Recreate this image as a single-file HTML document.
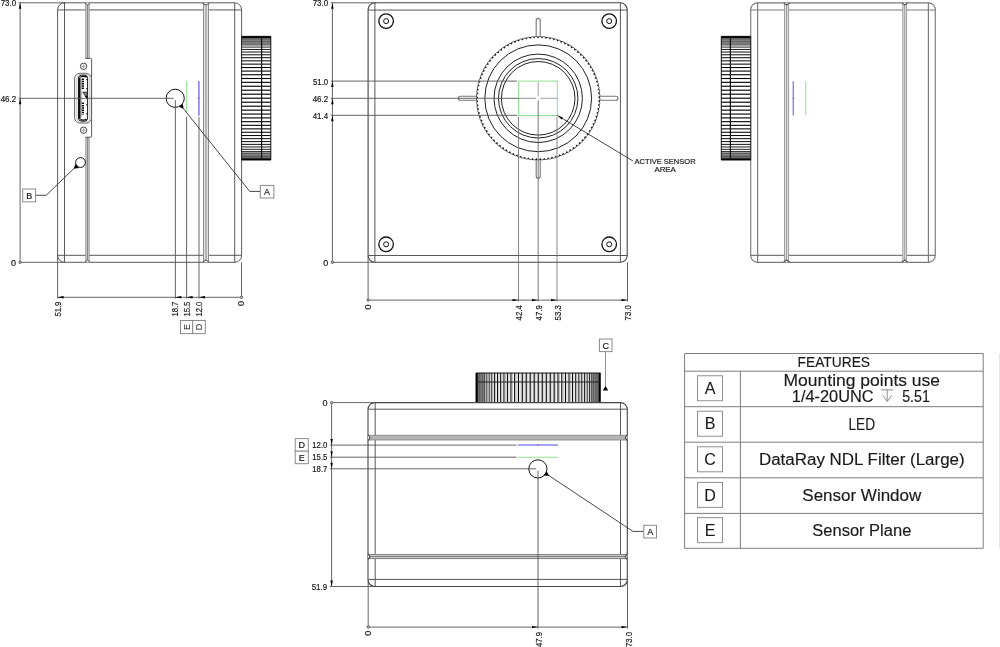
<!DOCTYPE html>
<html><head><meta charset="utf-8"><title>Camera drawing</title>
<style>
html,body{margin:0;padding:0;background:#fff;}
body{width:1000px;height:647px;overflow:hidden;font-family:"Liberation Sans",sans-serif;}
svg{display:block;will-change:transform;}
</style></head><body>
<svg width="1000" height="647" viewBox="0 0 1000 647">
<rect x="0" y="0" width="1000" height="647" fill="#fff"/>
<path d="M64.40,2.80 L234.80,2.80 A6.8,6.8 0 0 1 241.60,9.60 L241.60,255.50 A6.8,6.8 0 0 1 234.80,262.30 L64.40,262.30 A6.8,6.8 0 0 1 57.60,255.50 L57.60,9.60 A6.8,6.8 0 0 1 64.40,2.80 Z" stroke="#464646" stroke-width="0.9" fill="none" />
<line x1="64.50" y1="2.80" x2="64.50" y2="262.30" stroke="#464646" stroke-width="0.9" />
<line x1="234.70" y1="2.80" x2="234.70" y2="262.30" stroke="#464646" stroke-width="0.9" />
<line x1="57.60" y1="9.95" x2="241.60" y2="9.95" stroke="#464646" stroke-width="0.9" />
<line x1="57.60" y1="255.30" x2="241.60" y2="255.30" stroke="#464646" stroke-width="0.9" />
<rect x="85.70" y="3.80" width="3.60" height="54.60" rx="0" stroke="none" stroke-width="0" fill="#e2e2e2"/>
<line x1="85.90" y1="3.80" x2="85.90" y2="58.40" stroke="#808080" stroke-width="0.9" />
<line x1="87.50" y1="3.80" x2="87.50" y2="58.40" stroke="#808080" stroke-width="0.9" />
<line x1="89.10" y1="3.80" x2="89.10" y2="58.40" stroke="#808080" stroke-width="0.9" />
<rect x="85.70" y="137.20" width="3.60" height="124.10" rx="0" stroke="none" stroke-width="0" fill="#e2e2e2"/>
<line x1="85.90" y1="137.20" x2="85.90" y2="261.30" stroke="#808080" stroke-width="0.9" />
<line x1="87.50" y1="137.20" x2="87.50" y2="261.30" stroke="#808080" stroke-width="0.9" />
<line x1="89.10" y1="137.20" x2="89.10" y2="261.30" stroke="#808080" stroke-width="0.9" />
<path d="M84.90,2.80 L87.50,5.10 L90.10,2.80" stroke="#464646" stroke-width="1.0" fill="#fff" />
<path d="M84.90,262.30 L87.50,260.00 L90.10,262.30" stroke="#464646" stroke-width="1.0" fill="#fff" />
<rect x="203.30" y="3.80" width="5.40" height="257.50" rx="0" stroke="none" stroke-width="0" fill="#e2e2e2"/>
<line x1="203.50" y1="3.80" x2="203.50" y2="261.30" stroke="#808080" stroke-width="0.9" />
<line x1="206.00" y1="3.80" x2="206.00" y2="261.30" stroke="#808080" stroke-width="0.9" />
<line x1="208.50" y1="3.80" x2="208.50" y2="261.30" stroke="#808080" stroke-width="0.9" />
<path d="M202.50,2.80 L206.00,5.10 L209.50,2.80" stroke="#464646" stroke-width="1.0" fill="#fff" />
<path d="M202.50,262.30 L206.00,260.00 L209.50,262.30" stroke="#464646" stroke-width="1.0" fill="#fff" />
<path d="M85.4,58.4 L90.8,58.4 Q91.6,58.4 91.6,59.2 L91.6,136.4 Q91.6,137.2 90.8,137.2 L85.4,137.2" stroke="#464646" stroke-width="0.9" fill="none" />
<circle cx="83.60" cy="66.30" r="3.20" stroke="#464646" stroke-width="1.0" fill="none"/>
<line x1="81.60" y1="66.30" x2="85.60" y2="66.30" stroke="#777" stroke-width="0.7" />
<line x1="83.60" y1="64.30" x2="83.60" y2="68.30" stroke="#777" stroke-width="0.7" />
<circle cx="83.60" cy="130.20" r="3.20" stroke="#464646" stroke-width="1.0" fill="none"/>
<line x1="81.60" y1="130.20" x2="85.60" y2="130.20" stroke="#777" stroke-width="0.7" />
<line x1="83.60" y1="128.20" x2="83.60" y2="132.20" stroke="#777" stroke-width="0.7" />
<path d="M80.00,73.30 L86.10,73.30 A5.4,5.4 0 0 1 91.50,78.70 L91.50,117.70 A5.4,5.4 0 0 1 86.10,123.10 L80.00,123.10 A5.4,5.4 0 0 1 74.60,117.70 L74.60,78.70 A5.4,5.4 0 0 1 80.00,73.30 Z" stroke="#555" stroke-width="0.9" fill="#fff" />
<path d="M81.30,74.20 L85.40,74.20 A4.4,4.4 0 0 1 89.80,78.60 L89.80,117.80 A4.4,4.4 0 0 1 85.40,122.20 L81.30,122.20 A4.4,4.4 0 0 1 76.90,117.80 L76.90,78.60 A4.4,4.4 0 0 1 81.30,74.20 Z" stroke="#a0a0a0" stroke-width="0.7" fill="none" />
<path d="M81.60,75.20 L84.60,75.20 A3.0,3.0 0 0 1 87.60,78.20 L87.60,118.20 A3.0,3.0 0 0 1 84.60,121.20 L81.60,121.20 A3.0,3.0 0 0 1 78.60,118.20 L78.60,78.20 A3.0,3.0 0 0 1 81.60,75.20 Z" stroke="#1a1a1a" stroke-width="1.0" fill="none" />
<line x1="79.40" y1="77.60" x2="79.40" y2="118.80" stroke="#111" stroke-width="2.3" />
<line x1="81.20" y1="79.00" x2="81.20" y2="117.50" stroke="#777" stroke-width="0.7" />
<line x1="82.90" y1="78.40" x2="82.90" y2="89.80" stroke="#000" stroke-width="2.1" stroke-dasharray="1.5 0.8"/>
<line x1="82.90" y1="102.60" x2="82.90" y2="114.40" stroke="#000" stroke-width="2.1" stroke-dasharray="1.5 0.8"/>
<line x1="87.00" y1="79.00" x2="87.00" y2="89.50" stroke="#111" stroke-width="1.3" stroke-dasharray="1.2 7.8"/>
<line x1="87.00" y1="104.00" x2="87.00" y2="115.00" stroke="#111" stroke-width="1.3" stroke-dasharray="1.2 7.8"/>
<path d="M82.8,92.2 L87.2,92.2 L87.2,98.8 Z" stroke="#222" stroke-width="0.9" fill="#8a8a8a" />
<path d="M85.2,96 L87.2,96 L87.2,98.8 Z" stroke="#000" stroke-width="0.5" fill="#000" />
<path d="M80.4,119.4 Q83.5,121.0 86.6,119.2" stroke="#111" stroke-width="1.4" fill="none" />
<path d="M80.4,76.9 Q83.5,75.6 86.6,77.0" stroke="#111" stroke-width="1.4" fill="none" />
<rect x="241.60" y="36.30" width="29.20" height="123.80" rx="0" stroke="none" stroke-width="0" fill="#fff"/>
<line x1="241.60" y1="36.37" x2="270.80" y2="36.37" stroke="#222" stroke-width="0.53" />
<line x1="241.60" y1="36.31" x2="270.80" y2="36.31" stroke="#222" stroke-width="0.51" />
<line x1="241.60" y1="36.50" x2="270.80" y2="36.50" stroke="#222" stroke-width="0.55" />
<line x1="241.60" y1="36.96" x2="270.80" y2="36.96" stroke="#222" stroke-width="0.59" />
<line x1="241.60" y1="37.67" x2="270.80" y2="37.67" stroke="#222" stroke-width="0.64" />
<line x1="241.60" y1="38.63" x2="270.80" y2="38.63" stroke="#222" stroke-width="0.68" />
<line x1="241.60" y1="39.84" x2="270.80" y2="39.84" stroke="#222" stroke-width="0.72" />
<line x1="241.60" y1="41.30" x2="270.80" y2="41.30" stroke="#222" stroke-width="0.76" />
<line x1="241.60" y1="43.00" x2="270.80" y2="43.00" stroke="#222" stroke-width="0.79" />
<line x1="241.60" y1="44.93" x2="270.80" y2="44.93" stroke="#000" stroke-width="0.83" />
<line x1="241.60" y1="47.08" x2="270.80" y2="47.08" stroke="#000" stroke-width="0.87" />
<line x1="241.60" y1="49.45" x2="270.80" y2="49.45" stroke="#000" stroke-width="0.9" />
<line x1="241.60" y1="52.02" x2="270.80" y2="52.02" stroke="#000" stroke-width="0.93" />
<line x1="241.60" y1="54.79" x2="270.80" y2="54.79" stroke="#000" stroke-width="0.96" />
<line x1="241.60" y1="57.73" x2="270.80" y2="57.73" stroke="#000" stroke-width="0.99" />
<line x1="241.60" y1="60.85" x2="270.80" y2="60.85" stroke="#000" stroke-width="1.02" />
<line x1="241.60" y1="64.12" x2="270.80" y2="64.12" stroke="#000" stroke-width="1.04" />
<line x1="241.60" y1="67.54" x2="270.80" y2="67.54" stroke="#000" stroke-width="1.06" />
<line x1="241.60" y1="71.08" x2="270.80" y2="71.08" stroke="#000" stroke-width="1.08" />
<line x1="241.60" y1="74.74" x2="270.80" y2="74.74" stroke="#000" stroke-width="1.1" />
<line x1="241.60" y1="78.50" x2="270.80" y2="78.50" stroke="#000" stroke-width="1.12" />
<line x1="241.60" y1="82.34" x2="270.80" y2="82.34" stroke="#000" stroke-width="1.13" />
<line x1="241.60" y1="86.25" x2="270.80" y2="86.25" stroke="#000" stroke-width="1.14" />
<line x1="241.60" y1="90.20" x2="270.80" y2="90.20" stroke="#000" stroke-width="1.14" />
<line x1="241.60" y1="94.19" x2="270.80" y2="94.19" stroke="#000" stroke-width="1.15" />
<line x1="241.60" y1="98.20" x2="270.80" y2="98.20" stroke="#000" stroke-width="1.15" />
<line x1="241.60" y1="102.21" x2="270.80" y2="102.21" stroke="#000" stroke-width="1.15" />
<line x1="241.60" y1="106.20" x2="270.80" y2="106.20" stroke="#000" stroke-width="1.14" />
<line x1="241.60" y1="110.15" x2="270.80" y2="110.15" stroke="#000" stroke-width="1.14" />
<line x1="241.60" y1="114.06" x2="270.80" y2="114.06" stroke="#000" stroke-width="1.13" />
<line x1="241.60" y1="117.90" x2="270.80" y2="117.90" stroke="#000" stroke-width="1.12" />
<line x1="241.60" y1="121.66" x2="270.80" y2="121.66" stroke="#000" stroke-width="1.1" />
<line x1="241.60" y1="125.32" x2="270.80" y2="125.32" stroke="#000" stroke-width="1.08" />
<line x1="241.60" y1="128.86" x2="270.80" y2="128.86" stroke="#000" stroke-width="1.06" />
<line x1="241.60" y1="132.28" x2="270.80" y2="132.28" stroke="#000" stroke-width="1.04" />
<line x1="241.60" y1="135.55" x2="270.80" y2="135.55" stroke="#000" stroke-width="1.02" />
<line x1="241.60" y1="138.67" x2="270.80" y2="138.67" stroke="#000" stroke-width="0.99" />
<line x1="241.60" y1="141.61" x2="270.80" y2="141.61" stroke="#000" stroke-width="0.96" />
<line x1="241.60" y1="144.38" x2="270.80" y2="144.38" stroke="#000" stroke-width="0.93" />
<line x1="241.60" y1="146.95" x2="270.80" y2="146.95" stroke="#000" stroke-width="0.9" />
<line x1="241.60" y1="149.32" x2="270.80" y2="149.32" stroke="#000" stroke-width="0.87" />
<line x1="241.60" y1="151.47" x2="270.80" y2="151.47" stroke="#000" stroke-width="0.83" />
<line x1="241.60" y1="153.40" x2="270.80" y2="153.40" stroke="#222" stroke-width="0.79" />
<line x1="241.60" y1="155.10" x2="270.80" y2="155.10" stroke="#222" stroke-width="0.76" />
<line x1="241.60" y1="156.56" x2="270.80" y2="156.56" stroke="#222" stroke-width="0.72" />
<line x1="241.60" y1="157.77" x2="270.80" y2="157.77" stroke="#222" stroke-width="0.68" />
<line x1="241.60" y1="158.73" x2="270.80" y2="158.73" stroke="#222" stroke-width="0.64" />
<line x1="241.60" y1="159.44" x2="270.80" y2="159.44" stroke="#222" stroke-width="0.59" />
<line x1="241.60" y1="159.90" x2="270.80" y2="159.90" stroke="#222" stroke-width="0.55" />
<line x1="241.60" y1="160.09" x2="270.80" y2="160.09" stroke="#222" stroke-width="0.51" />
<rect x="241.60" y="36.30" width="29.20" height="8.50" fill="#555" opacity="0.55"/>
<rect x="241.60" y="36.30" width="29.20" height="1.7" fill="#000"/>
<rect x="241.60" y="151.60" width="29.20" height="8.50" fill="#555" opacity="0.55"/>
<rect x="241.60" y="158.40" width="29.20" height="1.7" fill="#000"/>
<line x1="261.60" y1="36.30" x2="261.60" y2="160.10" stroke="#111" stroke-width="1.2" />
<line x1="270.80" y1="36.30" x2="270.80" y2="160.10" stroke="#111" stroke-width="1.0" />
<line x1="241.60" y1="36.30" x2="241.60" y2="160.10" stroke="#222" stroke-width="1.0" />
<circle cx="175.20" cy="98.30" r="9.10" stroke="#111" stroke-width="1.0" fill="none"/>
<circle cx="80.50" cy="162.50" r="4.90" stroke="#111" stroke-width="1.0" fill="none"/>
<line x1="186.70" y1="81.10" x2="186.70" y2="111.80" stroke="#90e090" stroke-width="1.0" />
<line x1="198.90" y1="81.10" x2="198.90" y2="115.80" stroke="#8585ea" stroke-width="1.6" />
<line x1="197.60" y1="98.30" x2="200.20" y2="98.30" stroke="#777" stroke-width="0.7" />
<line x1="18.50" y1="2.80" x2="65.60" y2="2.80" stroke="#555" stroke-width="0.9" />
<line x1="20.10" y1="262.30" x2="63.60" y2="262.30" stroke="#555" stroke-width="0.9" />
<line x1="18.50" y1="98.30" x2="173.60" y2="98.30" stroke="#555" stroke-width="0.9" />
<line x1="20.10" y1="2.80" x2="20.10" y2="262.30" stroke="#555" stroke-width="0.9" />
<polygon points="20.10,2.80 21.30,8.80 18.90,8.80" fill="#000"/>
<polygon points="20.10,98.30 21.30,104.30 18.90,104.30" fill="#000"/>
<circle cx="20.10" cy="262.30" r="1.20" stroke="#444" stroke-width="0.8" fill="#ccc"/>
<text x="16.20" y="6.20" font-size="9.0" font-family="Liberation Sans, sans-serif" text-anchor="end" fill="#1a1a1a" stroke="#1a1a1a" stroke-width="0.2" font-weight="normal" textLength="15.5" lengthAdjust="spacingAndGlyphs">73.0</text>
<text x="16.20" y="101.90" font-size="9.0" font-family="Liberation Sans, sans-serif" text-anchor="end" fill="#1a1a1a" stroke="#1a1a1a" stroke-width="0.2" font-weight="normal" textLength="15.5" lengthAdjust="spacingAndGlyphs">46.2</text>
<text x="13.60" y="265.50" font-size="9.0" font-family="Liberation Sans, sans-serif" text-anchor="middle" fill="#1a1a1a" stroke="#1a1a1a" stroke-width="0.2" font-weight="normal">0</text>
<line x1="57.60" y1="255.30" x2="57.60" y2="298.50" stroke="#555" stroke-width="0.9" />
<line x1="175.40" y1="100.20" x2="175.40" y2="298.50" stroke="#555" stroke-width="0.9" />
<line x1="186.60" y1="116.80" x2="186.60" y2="298.50" stroke="#555" stroke-width="0.9" />
<line x1="199.00" y1="117.00" x2="199.00" y2="298.50" stroke="#555" stroke-width="0.9" />
<line x1="241.50" y1="262.30" x2="241.50" y2="298.50" stroke="#555" stroke-width="0.9" />
<line x1="57.60" y1="297.30" x2="241.50" y2="297.30" stroke="#555" stroke-width="0.9" />
<polygon points="57.60,297.30 63.60,296.10 63.60,298.50" fill="#000"/>
<polygon points="175.40,297.30 181.40,296.10 181.40,298.50" fill="#000"/>
<polygon points="186.60,297.30 192.60,296.10 192.60,298.50" fill="#000"/>
<polygon points="199.00,297.30 205.00,296.10 205.00,298.50" fill="#000"/>
<circle cx="241.50" cy="297.30" r="1.20" stroke="#444" stroke-width="0.8" fill="#ccc"/>
<text x="61.30" y="316.60" font-size="9.0" font-family="Liberation Sans, sans-serif" text-anchor="start" fill="#1a1a1a" stroke="#1a1a1a" stroke-width="0.2" font-weight="normal" textLength="15.0" lengthAdjust="spacingAndGlyphs" transform="rotate(-90 61.30 316.60)">51.9</text>
<text x="177.80" y="316.60" font-size="9.0" font-family="Liberation Sans, sans-serif" text-anchor="start" fill="#1a1a1a" stroke="#1a1a1a" stroke-width="0.2" font-weight="normal" textLength="15.0" lengthAdjust="spacingAndGlyphs" transform="rotate(-90 177.80 316.60)">18.7</text>
<text x="189.80" y="316.60" font-size="9.0" font-family="Liberation Sans, sans-serif" text-anchor="start" fill="#1a1a1a" stroke="#1a1a1a" stroke-width="0.2" font-weight="normal" textLength="15.0" lengthAdjust="spacingAndGlyphs" transform="rotate(-90 189.80 316.60)">15.5</text>
<text x="201.90" y="316.60" font-size="9.0" font-family="Liberation Sans, sans-serif" text-anchor="start" fill="#1a1a1a" stroke="#1a1a1a" stroke-width="0.2" font-weight="normal" textLength="15.0" lengthAdjust="spacingAndGlyphs" transform="rotate(-90 201.90 316.60)">12.0</text>
<text x="244.40" y="306.00" font-size="9.0" font-family="Liberation Sans, sans-serif" text-anchor="start" fill="#1a1a1a" stroke="#1a1a1a" stroke-width="0.2" font-weight="normal" transform="rotate(-90 244.40 306.00)">0</text>
<rect x="180.50" y="320.50" width="12.20" height="13.10" rx="0" stroke="#8a8a8a" stroke-width="1.0" fill="#fff"/>
<text x="186.60" y="327.05" font-size="9" font-family="Liberation Sans, sans-serif" text-anchor="middle" fill="#1a1a1a" transform="rotate(-90 186.60 327.05) translate(0 3.24)">E</text>
<rect x="192.70" y="320.50" width="12.60" height="13.10" rx="0" stroke="#8a8a8a" stroke-width="1.0" fill="#fff"/>
<text x="199.00" y="327.05" font-size="9" font-family="Liberation Sans, sans-serif" text-anchor="middle" fill="#1a1a1a" transform="rotate(-90 199.00 327.05) translate(0 3.24)">D</text>
<path d="M260.3,191.4 L249.7,191.4 L183.2,108.4" stroke="#333" stroke-width="0.9" fill="none" />
<polygon points="178.9,106.6 182.9,103.9 183.6,109.0" fill="#000"/>
<rect x="260.30" y="185.40" width="13.60" height="12.60" rx="0" stroke="#8a8a8a" stroke-width="1.0" fill="#fff"/>
<text x="267.10" y="194.94" font-size="9" font-family="Liberation Sans, sans-serif" text-anchor="middle" fill="#1a1a1a" stroke="#1a1a1a" stroke-width="0.2" font-weight="normal">A</text>
<path d="M35.6,195.3 L46.2,195.3 L74.1,168.3" stroke="#333" stroke-width="0.9" fill="none" />
<polygon points="75.5,163.8 73.7,168.7 79.0,168.0" fill="#000"/>
<rect x="22.70" y="189.00" width="12.90" height="12.80" rx="0" stroke="#8a8a8a" stroke-width="1.0" fill="#fff"/>
<text x="29.15" y="198.64" font-size="9" font-family="Liberation Sans, sans-serif" text-anchor="middle" fill="#1a1a1a" stroke="#1a1a1a" stroke-width="0.2" font-weight="normal">B</text>
<path d="M374.90,2.80 L620.40,2.80 A6.8,6.8 0 0 1 627.20,9.60 L627.20,255.50 A6.8,6.8 0 0 1 620.40,262.30 L374.90,262.30 A6.8,6.8 0 0 1 368.10,255.50 L368.10,9.60 A6.8,6.8 0 0 1 374.90,2.80 Z" stroke="#464646" stroke-width="1.1" fill="none" />
<line x1="374.90" y1="2.80" x2="374.90" y2="262.30" stroke="#464646" stroke-width="0.9" />
<line x1="620.40" y1="2.80" x2="620.40" y2="262.30" stroke="#464646" stroke-width="0.9" />
<line x1="368.10" y1="10.05" x2="627.20" y2="10.05" stroke="#464646" stroke-width="0.9" />
<line x1="368.10" y1="255.50" x2="627.20" y2="255.50" stroke="#464646" stroke-width="0.9" />
<circle cx="386.10" cy="21.10" r="7.30" stroke="#111" stroke-width="1.3" fill="none"/>
<circle cx="386.10" cy="21.10" r="2.50" stroke="#111" stroke-width="1.0" fill="none"/>
<circle cx="386.10" cy="244.30" r="7.30" stroke="#111" stroke-width="1.3" fill="none"/>
<circle cx="386.10" cy="244.30" r="2.50" stroke="#111" stroke-width="1.0" fill="none"/>
<circle cx="609.20" cy="21.10" r="7.30" stroke="#111" stroke-width="1.3" fill="none"/>
<circle cx="609.20" cy="21.10" r="2.50" stroke="#111" stroke-width="1.0" fill="none"/>
<circle cx="609.20" cy="244.30" r="7.30" stroke="#111" stroke-width="1.3" fill="none"/>
<circle cx="609.20" cy="244.30" r="2.50" stroke="#111" stroke-width="1.0" fill="none"/>
<rect x="536.20" y="18.40" width="4.00" height="21.60" rx="2.0" stroke="#777" stroke-width="1.1" fill="#fff"/>
<rect x="536.20" y="158.00" width="4.00" height="20.20" rx="2.0" stroke="#777" stroke-width="1.1" fill="#fff"/>
<rect x="458.40" y="96.30" width="21.60" height="4.00" rx="2.0" stroke="#777" stroke-width="1.1" fill="#fff"/>
<rect x="598.00" y="96.30" width="20.00" height="4.00" rx="2.0" stroke="#777" stroke-width="1.1" fill="#fff"/>
<circle cx="538.20" cy="98.30" r="61.80" stroke="#fff" stroke-width="0" fill="#fff"/>
<path d="M600.00,98.30 L599.97,100.10 L598.43,101.11 L599.87,102.30 L599.73,104.10 L598.13,105.00 L599.48,106.28 L599.22,108.07 L597.57,108.87 L598.84,110.23 L598.46,112.00 L596.76,112.69 L597.94,114.13 L597.45,115.87 L595.70,116.45 L596.79,117.97 L596.19,119.67 L594.41,120.13 L595.39,121.72 L594.68,123.38 L592.88,123.73 L593.76,125.37 L592.94,126.98 L591.12,127.21 L591.89,128.91 L590.97,130.46 L589.13,130.58 L589.79,132.32 L588.78,133.81 L586.94,133.81 L587.48,135.59 L586.37,137.01 L584.54,136.89 L584.96,138.70 L583.77,140.05 L581.94,139.81 L582.25,141.64 L580.97,142.91 L579.16,142.55 L579.35,144.40 L577.99,145.58 L576.21,145.11 L576.28,146.97 L574.85,148.06 L573.10,147.47 L573.05,149.33 L571.55,150.33 L569.85,149.63 L569.68,151.48 L568.11,152.38 L566.46,151.57 L566.17,153.41 L564.55,154.20 L562.95,153.29 L562.54,155.10 L560.88,155.79 L559.34,154.77 L558.81,156.56 L557.11,157.14 L555.64,156.02 L555.00,157.77 L553.26,158.24 L551.87,157.03 L551.11,158.74 L549.35,159.09 L548.04,157.79 L547.18,159.44 L545.39,159.68 L544.17,158.30 L543.20,159.90 L541.40,160.02 L540.27,158.56 L539.20,160.09 L537.40,160.09 L536.36,158.57 L535.20,160.03 L533.40,159.91 L532.47,158.33 L531.21,159.70 L529.42,159.47 L528.59,157.83 L527.25,159.12 L525.48,158.78 L524.76,157.08 L523.34,158.29 L521.59,157.83 L520.98,156.09 L519.48,157.20 L517.78,156.63 L517.28,154.85 L515.71,155.86 L514.04,155.18 L513.66,153.38 L512.03,154.29 L510.41,153.50 L510.15,151.68 L508.46,152.48 L506.90,151.59 L506.75,149.75 L505.02,150.44 L503.51,149.45 L503.49,147.61 L501.71,148.18 L500.27,147.09 L500.37,145.26 L498.56,145.71 L497.20,144.54 L497.41,142.71 L495.58,143.05 L494.29,141.79 L494.62,139.98 L492.77,140.19 L491.57,138.85 L492.01,137.07 L490.15,137.17 L489.04,135.75 L489.60,134.00 L487.74,133.97 L486.72,132.49 L487.39,130.78 L485.53,130.63 L484.61,129.08 L485.40,127.42 L483.55,127.16 L482.73,125.55 L483.62,123.94 L481.80,123.56 L481.09,121.90 L482.08,120.35 L480.28,119.85 L479.68,118.16 L480.77,116.67 L479.01,116.06 L478.51,114.33 L479.70,112.92 L477.98,112.19 L477.60,110.43 L478.88,109.10 L477.21,108.26 L476.94,106.48 L478.30,105.24 L476.69,104.30 L476.54,102.50 L477.98,101.35 L476.43,100.30 L476.40,98.50 L477.91,97.44 L476.43,96.30 L476.52,94.50 L478.09,93.54 L476.69,92.30 L476.89,90.51 L478.52,89.66 L477.21,88.34 L477.52,86.56 L479.21,85.81 L477.98,84.41 L478.41,82.66 L480.14,82.02 L479.01,80.54 L479.55,78.82 L481.31,78.30 L480.28,76.75 L480.93,75.07 L482.73,74.66 L481.80,73.04 L482.56,71.41 L484.38,71.12 L483.55,69.44 L484.41,67.86 L486.25,67.69 L485.53,65.97 L486.50,64.45 L488.34,64.39 L487.74,62.63 L488.80,61.17 L490.64,61.23 L490.15,59.43 L491.30,58.05 L493.14,58.23 L492.77,56.41 L494.01,55.10 L495.82,55.40 L495.58,53.55 L496.90,52.33 L498.69,52.75 L498.56,50.89 L499.96,49.75 L501.72,50.28 L501.71,48.42 L503.18,47.38 L504.91,48.02 L505.02,46.16 L506.55,45.22 L508.23,45.97 L508.46,44.12 L510.05,43.28 L511.68,44.14 L512.03,42.31 L513.67,41.57 L515.24,42.54 L515.71,40.74 L517.40,40.11 L518.90,41.17 L519.48,39.40 L521.21,38.88 L522.64,40.04 L523.34,38.31 L525.09,37.91 L526.44,39.16 L527.25,37.48 L529.03,37.18 L530.29,38.52 L531.21,36.90 L533.00,36.72 L534.18,38.13 L535.20,36.57 L537.00,36.51 L538.08,38.00 L539.20,36.51 L541.00,36.56 L541.99,38.12 L543.20,36.70 L544.99,36.87 L545.87,38.49 L547.18,37.16 L548.95,37.44 L549.73,39.11 L551.11,37.86 L552.87,38.27 L553.54,39.98 L555.00,38.83 L556.73,39.34 L557.28,41.10 L558.81,40.04 L560.50,40.66 L560.94,42.45 L562.54,41.50 L564.19,42.23 L564.51,44.04 L566.17,43.19 L567.76,44.03 L567.97,45.86 L569.68,45.12 L571.21,46.06 L571.30,47.90 L573.05,47.27 L574.53,48.30 L574.49,50.14 L576.28,49.63 L577.69,50.76 L577.53,52.59 L579.35,52.20 L580.68,53.41 L580.41,55.24 L582.25,54.96 L583.50,56.26 L583.11,58.06 L584.96,57.90 L586.12,59.28 L585.62,61.05 L587.48,61.01 L588.55,62.46 L587.93,64.20 L589.79,64.28 L590.76,65.80 L590.03,67.49 L591.89,67.69 L592.76,69.27 L591.92,70.91 L593.76,71.23 L594.52,72.86 L593.58,74.44 L595.39,74.88 L596.05,76.56 L595.01,78.08 L596.79,78.63 L597.34,80.35 L596.20,81.80 L597.94,82.47 L598.37,84.21 L597.14,85.58 L598.84,86.37 L599.16,88.14 L597.84,89.43 L599.48,90.32 L599.69,92.11 L598.29,93.31 L599.87,94.30 L599.96,96.10 L598.49,97.21 Z" stroke="#444" stroke-width="0.75" fill="none" />
<polygon points="599.97,100.10 598.23,101.10 599.87,102.30" fill="#111"/>
<polygon points="599.73,104.10 597.93,104.98 599.48,106.28" fill="#111"/>
<polygon points="599.22,108.07 597.37,108.83 598.84,110.23" fill="#111"/>
<polygon points="598.46,112.00 596.56,112.64 597.94,114.13" fill="#111"/>
<polygon points="597.45,115.87 595.51,116.39 596.79,117.97" fill="#111"/>
<polygon points="596.19,119.67 594.22,120.06 595.39,121.72" fill="#111"/>
<polygon points="594.68,123.38 592.70,123.64 593.76,125.37" fill="#111"/>
<polygon points="592.94,126.98 590.94,127.12 591.89,128.91" fill="#111"/>
<polygon points="590.97,130.46 588.96,130.47 589.79,132.32" fill="#111"/>
<polygon points="588.78,133.81 586.78,133.69 587.48,135.59" fill="#111"/>
<polygon points="586.37,137.01 584.38,136.76 584.96,138.70" fill="#111"/>
<polygon points="583.77,140.05 581.80,139.67 582.25,141.64" fill="#111"/>
<polygon points="580.97,142.91 579.03,142.40 579.35,144.40" fill="#111"/>
<polygon points="577.99,145.58 576.09,144.95 576.28,146.97" fill="#111"/>
<polygon points="574.85,148.06 572.99,147.31 573.05,149.33" fill="#111"/>
<polygon points="571.55,150.33 569.74,149.46 569.68,151.48" fill="#111"/>
<polygon points="568.11,152.38 566.37,151.39 566.17,153.41" fill="#111"/>
<polygon points="564.55,154.20 562.87,153.10 562.54,155.10" fill="#111"/>
<polygon points="560.88,155.79 559.27,154.59 558.81,156.56" fill="#111"/>
<polygon points="557.11,157.14 555.58,155.83 555.00,157.77" fill="#111"/>
<polygon points="553.26,158.24 551.82,156.84 551.11,158.74" fill="#111"/>
<polygon points="549.35,159.09 548.01,157.59 547.18,159.44" fill="#111"/>
<polygon points="545.39,159.68 544.15,158.11 543.20,159.90" fill="#111"/>
<polygon points="541.40,160.02 540.26,158.36 539.20,160.09" fill="#111"/>
<polygon points="537.40,160.09 536.37,158.37 535.20,160.03" fill="#111"/>
<polygon points="533.40,159.91 532.49,158.13 531.21,159.70" fill="#111"/>
<polygon points="529.42,159.47 528.63,157.63 527.25,159.12" fill="#111"/>
<polygon points="525.48,158.78 524.80,156.89 523.34,158.29" fill="#111"/>
<polygon points="521.59,157.83 521.04,155.90 519.48,157.20" fill="#111"/>
<polygon points="517.78,156.63 517.35,154.67 515.71,155.86" fill="#111"/>
<polygon points="514.04,155.18 513.74,153.20 512.03,154.29" fill="#111"/>
<polygon points="510.41,153.50 510.24,151.50 508.46,152.48" fill="#111"/>
<polygon points="506.90,151.59 506.86,149.58 505.02,150.44" fill="#111"/>
<polygon points="503.51,149.45 503.60,147.44 501.71,148.18" fill="#111"/>
<polygon points="500.27,147.09 500.49,145.10 498.56,145.71" fill="#111"/>
<polygon points="497.20,144.54 497.54,142.56 495.58,143.05" fill="#111"/>
<polygon points="494.29,141.79 494.76,139.84 492.77,140.19" fill="#111"/>
<polygon points="491.57,138.85 492.17,136.94 490.15,137.17" fill="#111"/>
<polygon points="489.04,135.75 489.76,133.88 487.74,133.97" fill="#111"/>
<polygon points="486.72,132.49 487.56,130.67 485.53,130.63" fill="#111"/>
<polygon points="484.61,129.08 485.57,127.32 483.55,127.16" fill="#111"/>
<polygon points="482.73,125.55 483.80,123.85 481.80,123.56" fill="#111"/>
<polygon points="481.09,121.90 482.26,120.28 480.28,119.85" fill="#111"/>
<polygon points="479.68,118.16 480.96,116.61 479.01,116.06" fill="#111"/>
<polygon points="478.51,114.33 479.89,112.87 477.98,112.19" fill="#111"/>
<polygon points="477.60,110.43 479.07,109.06 477.21,108.26" fill="#111"/>
<polygon points="476.94,106.48 478.50,105.21 476.69,104.30" fill="#111"/>
<polygon points="476.54,102.50 478.18,101.34 476.43,100.30" fill="#111"/>
<polygon points="476.40,98.50 478.11,97.44 476.43,96.30" fill="#111"/>
<polygon points="476.52,94.50 478.29,93.56 476.69,92.30" fill="#111"/>
<polygon points="476.89,90.51 478.72,89.69 477.21,88.34" fill="#111"/>
<polygon points="477.52,86.56 479.40,85.86 477.98,84.41" fill="#111"/>
<polygon points="478.41,82.66 480.33,82.08 479.01,80.54" fill="#111"/>
<polygon points="479.55,78.82 481.50,78.36 480.28,76.75" fill="#111"/>
<polygon points="480.93,75.07 482.91,74.74 481.80,73.04" fill="#111"/>
<polygon points="482.56,71.41 484.55,71.21 483.55,69.44" fill="#111"/>
<polygon points="484.41,67.86 486.42,67.79 485.53,65.97" fill="#111"/>
<polygon points="486.50,64.45 488.50,64.50 487.74,62.63" fill="#111"/>
<polygon points="488.80,61.17 490.80,61.36 490.15,59.43" fill="#111"/>
<polygon points="491.30,58.05 493.29,58.37 492.77,56.41" fill="#111"/>
<polygon points="494.01,55.10 495.97,55.54 495.58,53.55" fill="#111"/>
<polygon points="496.90,52.33 498.82,52.90 498.56,50.89" fill="#111"/>
<polygon points="499.96,49.75 501.84,50.44 501.71,48.42" fill="#111"/>
<polygon points="503.18,47.38 505.02,48.19 505.02,46.16" fill="#111"/>
<polygon points="506.55,45.22 508.33,46.15 508.46,44.12" fill="#111"/>
<polygon points="510.05,43.28 511.77,44.32 512.03,42.31" fill="#111"/>
<polygon points="513.67,41.57 515.32,42.73 515.71,40.74" fill="#111"/>
<polygon points="517.40,40.11 518.96,41.36 519.48,39.40" fill="#111"/>
<polygon points="521.21,38.88 522.69,40.24 523.34,38.31" fill="#111"/>
<polygon points="525.09,37.91 526.48,39.35 527.25,37.48" fill="#111"/>
<polygon points="529.03,37.18 530.32,38.72 531.21,36.90" fill="#111"/>
<polygon points="533.00,36.72 534.19,38.33 535.20,36.57" fill="#111"/>
<polygon points="537.00,36.51 538.08,38.20 539.20,36.51" fill="#111"/>
<polygon points="541.00,36.56 541.97,38.32 543.20,36.70" fill="#111"/>
<polygon points="544.99,36.87 545.85,38.69 547.18,37.16" fill="#111"/>
<polygon points="548.95,37.44 549.69,39.31 551.11,37.86" fill="#111"/>
<polygon points="552.87,38.27 553.49,40.18 555.00,38.83" fill="#111"/>
<polygon points="556.73,39.34 557.22,41.29 558.81,40.04" fill="#111"/>
<polygon points="560.50,40.66 560.87,42.64 562.54,41.50" fill="#111"/>
<polygon points="564.19,42.23 564.42,44.22 566.17,43.19" fill="#111"/>
<polygon points="567.76,44.03 567.87,46.03 569.68,45.12" fill="#111"/>
<polygon points="571.21,46.06 571.19,48.06 573.05,47.27" fill="#111"/>
<polygon points="574.53,48.30 574.37,50.30 576.28,49.63" fill="#111"/>
<polygon points="577.69,50.76 577.40,52.75 579.35,52.20" fill="#111"/>
<polygon points="580.68,53.41 580.27,55.38 582.25,54.96" fill="#111"/>
<polygon points="583.50,56.26 582.96,58.19 584.96,57.90" fill="#111"/>
<polygon points="586.12,59.28 585.46,61.17 587.48,61.01" fill="#111"/>
<polygon points="588.55,62.46 587.76,64.31 589.79,64.28" fill="#111"/>
<polygon points="590.76,65.80 589.86,67.59 591.89,67.69" fill="#111"/>
<polygon points="592.76,69.27 591.74,71.00 593.76,71.23" fill="#111"/>
<polygon points="594.52,72.86 593.40,74.52 595.39,74.88" fill="#111"/>
<polygon points="596.05,76.56 594.82,78.14 596.79,78.63" fill="#111"/>
<polygon points="597.34,80.35 596.01,81.85 597.94,82.47" fill="#111"/>
<polygon points="598.37,84.21 596.95,85.63 598.84,86.37" fill="#111"/>
<polygon points="599.16,88.14 597.65,89.46 599.48,90.32" fill="#111"/>
<polygon points="599.69,92.11 598.09,93.32 599.87,94.30" fill="#111"/>
<polygon points="599.96,96.10 598.29,97.21 600.00,98.30" fill="#111"/>
<circle cx="538.20" cy="98.30" r="53.40" stroke="#222" stroke-width="1.0" fill="none"/>
<circle cx="538.20" cy="98.30" r="44.20" stroke="#222" stroke-width="1.0" fill="none"/>
<circle cx="538.20" cy="98.30" r="39.70" stroke="#222" stroke-width="1.0" fill="none"/>
<circle cx="538.20" cy="98.30" r="36.80" stroke="#222" stroke-width="1.0" fill="none"/>
<rect x="518.60" y="81.10" width="38.70" height="34.40" rx="0" stroke="#90e090" stroke-width="1.0" fill="none"/>
<line x1="538.20" y1="82.10" x2="538.20" y2="96.30" stroke="#999" stroke-width="0.9" />
<line x1="538.20" y1="100.30" x2="538.20" y2="301.60" stroke="#6a6a6a" stroke-width="0.9" />
<line x1="518.60" y1="98.30" x2="536.30" y2="98.30" stroke="#888" stroke-width="0.9" />
<line x1="540.30" y1="98.30" x2="557.30" y2="98.30" stroke="#999" stroke-width="0.9" />
<line x1="330.70" y1="2.80" x2="376.10" y2="2.80" stroke="#555" stroke-width="0.9" />
<line x1="332.40" y1="262.30" x2="374.10" y2="262.30" stroke="#555" stroke-width="0.9" />
<line x1="330.70" y1="81.10" x2="517.10" y2="81.10" stroke="#555" stroke-width="0.9" />
<line x1="330.70" y1="98.30" x2="518.60" y2="98.30" stroke="#555" stroke-width="0.9" />
<line x1="330.70" y1="115.30" x2="517.10" y2="115.30" stroke="#555" stroke-width="0.9" />
<line x1="332.40" y1="2.80" x2="332.40" y2="262.30" stroke="#555" stroke-width="0.9" />
<polygon points="332.40,2.80 333.60,8.80 331.20,8.80" fill="#000"/>
<polygon points="332.40,81.10 333.60,87.10 331.20,87.10" fill="#000"/>
<polygon points="332.40,98.30 333.60,104.30 331.20,104.30" fill="#000"/>
<polygon points="332.40,115.30 333.60,121.30 331.20,121.30" fill="#000"/>
<circle cx="332.40" cy="262.30" r="1.20" stroke="#444" stroke-width="0.8" fill="#ccc"/>
<text x="328.20" y="6.20" font-size="9.0" font-family="Liberation Sans, sans-serif" text-anchor="end" fill="#1a1a1a" stroke="#1a1a1a" stroke-width="0.2" font-weight="normal" textLength="15.5" lengthAdjust="spacingAndGlyphs">73.0</text>
<text x="328.20" y="84.80" font-size="9.0" font-family="Liberation Sans, sans-serif" text-anchor="end" fill="#1a1a1a" stroke="#1a1a1a" stroke-width="0.2" font-weight="normal" textLength="15.2" lengthAdjust="spacingAndGlyphs">51.0</text>
<text x="328.20" y="101.90" font-size="9.0" font-family="Liberation Sans, sans-serif" text-anchor="end" fill="#1a1a1a" stroke="#1a1a1a" stroke-width="0.2" font-weight="normal" textLength="15.5" lengthAdjust="spacingAndGlyphs">46.2</text>
<text x="328.20" y="119.00" font-size="9.0" font-family="Liberation Sans, sans-serif" text-anchor="end" fill="#1a1a1a" stroke="#1a1a1a" stroke-width="0.2" font-weight="normal" textLength="15.5" lengthAdjust="spacingAndGlyphs">41.4</text>
<text x="325.70" y="265.50" font-size="9.0" font-family="Liberation Sans, sans-serif" text-anchor="middle" fill="#1a1a1a" stroke="#1a1a1a" stroke-width="0.2" font-weight="normal">0</text>
<line x1="368.10" y1="255.30" x2="368.10" y2="300.10" stroke="#555" stroke-width="0.9" />
<line x1="627.50" y1="262.30" x2="627.50" y2="301.60" stroke="#555" stroke-width="0.9" />
<line x1="518.50" y1="117.00" x2="518.50" y2="301.60" stroke="#7a7a7a" stroke-width="0.9" />
<line x1="557.00" y1="117.00" x2="557.00" y2="301.60" stroke="#7a7a7a" stroke-width="0.9" />
<line x1="368.10" y1="300.10" x2="627.50" y2="300.10" stroke="#555" stroke-width="0.9" />
<polygon points="518.50,300.10 512.50,301.30 512.50,298.90" fill="#000"/>
<polygon points="538.00,300.10 532.00,301.30 532.00,298.90" fill="#000"/>
<polygon points="557.00,300.10 551.00,301.30 551.00,298.90" fill="#000"/>
<polygon points="627.50,300.10 621.50,301.30 621.50,298.90" fill="#000"/>
<circle cx="368.10" cy="300.10" r="1.20" stroke="#444" stroke-width="0.8" fill="#ccc"/>
<text x="522.20" y="320.40" font-size="9.0" font-family="Liberation Sans, sans-serif" text-anchor="start" fill="#1a1a1a" stroke="#1a1a1a" stroke-width="0.2" font-weight="normal" textLength="15.2" lengthAdjust="spacingAndGlyphs" transform="rotate(-90 522.20 320.40)">42.4</text>
<text x="541.60" y="320.40" font-size="9.0" font-family="Liberation Sans, sans-serif" text-anchor="start" fill="#1a1a1a" stroke="#1a1a1a" stroke-width="0.2" font-weight="normal" textLength="15.2" lengthAdjust="spacingAndGlyphs" transform="rotate(-90 541.60 320.40)">47.9</text>
<text x="560.70" y="320.40" font-size="9.0" font-family="Liberation Sans, sans-serif" text-anchor="start" fill="#1a1a1a" stroke="#1a1a1a" stroke-width="0.2" font-weight="normal" textLength="15.2" lengthAdjust="spacingAndGlyphs" transform="rotate(-90 560.70 320.40)">53.3</text>
<text x="631.50" y="320.40" font-size="9.0" font-family="Liberation Sans, sans-serif" text-anchor="start" fill="#1a1a1a" stroke="#1a1a1a" stroke-width="0.2" font-weight="normal" textLength="15.2" lengthAdjust="spacingAndGlyphs" transform="rotate(-90 631.50 320.40)">73.0</text>
<text x="371.20" y="309.40" font-size="9.0" font-family="Liberation Sans, sans-serif" text-anchor="start" fill="#1a1a1a" stroke="#1a1a1a" stroke-width="0.2" font-weight="normal" transform="rotate(-90 371.20 309.40)">0</text>
<line x1="557.40" y1="115.50" x2="633.20" y2="161.10" stroke="#333" stroke-width="0.9" />
<polygon points="557.60,115.60 562.93,117.41 561.69,119.46" fill="#000"/>
<text x="665.10" y="164.30" font-size="7.8" font-family="Liberation Sans, sans-serif" text-anchor="middle" fill="#1a1a1a" stroke="#1a1a1a" stroke-width="0.2" font-weight="normal" textLength="61" lengthAdjust="spacingAndGlyphs">ACTIVE SENSOR</text>
<text x="665.10" y="171.90" font-size="7.8" font-family="Liberation Sans, sans-serif" text-anchor="middle" fill="#1a1a1a" stroke="#1a1a1a" stroke-width="0.2" font-weight="normal" textLength="21.4" lengthAdjust="spacingAndGlyphs">AREA</text>
<path d="M757.50,2.80 L928.50,2.80 A6.8,6.8 0 0 1 935.30,9.60 L935.30,255.50 A6.8,6.8 0 0 1 928.50,262.30 L757.50,262.30 A6.8,6.8 0 0 1 750.70,255.50 L750.70,9.60 A6.8,6.8 0 0 1 757.50,2.80 Z" stroke="#7a7a7a" stroke-width="1.15" fill="none" />
<line x1="757.60" y1="2.80" x2="757.60" y2="262.30" stroke="#7a7a7a" stroke-width="1.15" />
<line x1="928.40" y1="2.80" x2="928.40" y2="262.30" stroke="#7a7a7a" stroke-width="1.15" />
<line x1="750.70" y1="9.95" x2="935.30" y2="9.95" stroke="#7a7a7a" stroke-width="1.15" />
<line x1="750.70" y1="255.30" x2="935.30" y2="255.30" stroke="#7a7a7a" stroke-width="1.15" />
<rect x="784.60" y="3.80" width="4.00" height="257.50" rx="0" stroke="none" stroke-width="0" fill="#e4e4e4"/>
<line x1="784.60" y1="3.80" x2="784.60" y2="261.30" stroke="#9a9a9a" stroke-width="1.0" />
<line x1="786.60" y1="3.80" x2="786.60" y2="261.30" stroke="#9a9a9a" stroke-width="1.0" />
<line x1="788.60" y1="3.80" x2="788.60" y2="261.30" stroke="#9a9a9a" stroke-width="1.0" />
<path d="M783.60,2.80 L786.60,5.10 L789.60,2.80" stroke="#555" stroke-width="1.2" fill="#fff" />
<path d="M783.60,262.30 L786.60,260.00 L789.60,262.30" stroke="#555" stroke-width="1.2" fill="#fff" />
<rect x="902.80" y="3.80" width="3.80" height="257.50" rx="0" stroke="none" stroke-width="0" fill="#e4e4e4"/>
<line x1="902.80" y1="3.80" x2="902.80" y2="261.30" stroke="#9a9a9a" stroke-width="1.0" />
<line x1="904.70" y1="3.80" x2="904.70" y2="261.30" stroke="#9a9a9a" stroke-width="1.0" />
<line x1="906.60" y1="3.80" x2="906.60" y2="261.30" stroke="#9a9a9a" stroke-width="1.0" />
<path d="M901.80,2.80 L904.70,5.10 L907.60,2.80" stroke="#555" stroke-width="1.2" fill="#fff" />
<path d="M901.80,262.30 L904.70,260.00 L907.60,262.30" stroke="#555" stroke-width="1.2" fill="#fff" />
<rect x="721.30" y="36.30" width="29.40" height="123.80" rx="0" stroke="none" stroke-width="0" fill="#fff"/>
<line x1="750.70" y1="36.37" x2="721.30" y2="36.37" stroke="#222" stroke-width="0.53" />
<line x1="750.70" y1="36.31" x2="721.30" y2="36.31" stroke="#222" stroke-width="0.51" />
<line x1="750.70" y1="36.50" x2="721.30" y2="36.50" stroke="#222" stroke-width="0.55" />
<line x1="750.70" y1="36.96" x2="721.30" y2="36.96" stroke="#222" stroke-width="0.59" />
<line x1="750.70" y1="37.67" x2="721.30" y2="37.67" stroke="#222" stroke-width="0.64" />
<line x1="750.70" y1="38.63" x2="721.30" y2="38.63" stroke="#222" stroke-width="0.68" />
<line x1="750.70" y1="39.84" x2="721.30" y2="39.84" stroke="#222" stroke-width="0.72" />
<line x1="750.70" y1="41.30" x2="721.30" y2="41.30" stroke="#222" stroke-width="0.76" />
<line x1="750.70" y1="43.00" x2="721.30" y2="43.00" stroke="#222" stroke-width="0.79" />
<line x1="750.70" y1="44.93" x2="721.30" y2="44.93" stroke="#000" stroke-width="0.83" />
<line x1="750.70" y1="47.08" x2="721.30" y2="47.08" stroke="#000" stroke-width="0.87" />
<line x1="750.70" y1="49.45" x2="721.30" y2="49.45" stroke="#000" stroke-width="0.9" />
<line x1="750.70" y1="52.02" x2="721.30" y2="52.02" stroke="#000" stroke-width="0.93" />
<line x1="750.70" y1="54.79" x2="721.30" y2="54.79" stroke="#000" stroke-width="0.96" />
<line x1="750.70" y1="57.73" x2="721.30" y2="57.73" stroke="#000" stroke-width="0.99" />
<line x1="750.70" y1="60.85" x2="721.30" y2="60.85" stroke="#000" stroke-width="1.02" />
<line x1="750.70" y1="64.12" x2="721.30" y2="64.12" stroke="#000" stroke-width="1.04" />
<line x1="750.70" y1="67.54" x2="721.30" y2="67.54" stroke="#000" stroke-width="1.06" />
<line x1="750.70" y1="71.08" x2="721.30" y2="71.08" stroke="#000" stroke-width="1.08" />
<line x1="750.70" y1="74.74" x2="721.30" y2="74.74" stroke="#000" stroke-width="1.1" />
<line x1="750.70" y1="78.50" x2="721.30" y2="78.50" stroke="#000" stroke-width="1.12" />
<line x1="750.70" y1="82.34" x2="721.30" y2="82.34" stroke="#000" stroke-width="1.13" />
<line x1="750.70" y1="86.25" x2="721.30" y2="86.25" stroke="#000" stroke-width="1.14" />
<line x1="750.70" y1="90.20" x2="721.30" y2="90.20" stroke="#000" stroke-width="1.14" />
<line x1="750.70" y1="94.19" x2="721.30" y2="94.19" stroke="#000" stroke-width="1.15" />
<line x1="750.70" y1="98.20" x2="721.30" y2="98.20" stroke="#000" stroke-width="1.15" />
<line x1="750.70" y1="102.21" x2="721.30" y2="102.21" stroke="#000" stroke-width="1.15" />
<line x1="750.70" y1="106.20" x2="721.30" y2="106.20" stroke="#000" stroke-width="1.14" />
<line x1="750.70" y1="110.15" x2="721.30" y2="110.15" stroke="#000" stroke-width="1.14" />
<line x1="750.70" y1="114.06" x2="721.30" y2="114.06" stroke="#000" stroke-width="1.13" />
<line x1="750.70" y1="117.90" x2="721.30" y2="117.90" stroke="#000" stroke-width="1.12" />
<line x1="750.70" y1="121.66" x2="721.30" y2="121.66" stroke="#000" stroke-width="1.1" />
<line x1="750.70" y1="125.32" x2="721.30" y2="125.32" stroke="#000" stroke-width="1.08" />
<line x1="750.70" y1="128.86" x2="721.30" y2="128.86" stroke="#000" stroke-width="1.06" />
<line x1="750.70" y1="132.28" x2="721.30" y2="132.28" stroke="#000" stroke-width="1.04" />
<line x1="750.70" y1="135.55" x2="721.30" y2="135.55" stroke="#000" stroke-width="1.02" />
<line x1="750.70" y1="138.67" x2="721.30" y2="138.67" stroke="#000" stroke-width="0.99" />
<line x1="750.70" y1="141.61" x2="721.30" y2="141.61" stroke="#000" stroke-width="0.96" />
<line x1="750.70" y1="144.38" x2="721.30" y2="144.38" stroke="#000" stroke-width="0.93" />
<line x1="750.70" y1="146.95" x2="721.30" y2="146.95" stroke="#000" stroke-width="0.9" />
<line x1="750.70" y1="149.32" x2="721.30" y2="149.32" stroke="#000" stroke-width="0.87" />
<line x1="750.70" y1="151.47" x2="721.30" y2="151.47" stroke="#000" stroke-width="0.83" />
<line x1="750.70" y1="153.40" x2="721.30" y2="153.40" stroke="#222" stroke-width="0.79" />
<line x1="750.70" y1="155.10" x2="721.30" y2="155.10" stroke="#222" stroke-width="0.76" />
<line x1="750.70" y1="156.56" x2="721.30" y2="156.56" stroke="#222" stroke-width="0.72" />
<line x1="750.70" y1="157.77" x2="721.30" y2="157.77" stroke="#222" stroke-width="0.68" />
<line x1="750.70" y1="158.73" x2="721.30" y2="158.73" stroke="#222" stroke-width="0.64" />
<line x1="750.70" y1="159.44" x2="721.30" y2="159.44" stroke="#222" stroke-width="0.59" />
<line x1="750.70" y1="159.90" x2="721.30" y2="159.90" stroke="#222" stroke-width="0.55" />
<line x1="750.70" y1="160.09" x2="721.30" y2="160.09" stroke="#222" stroke-width="0.51" />
<rect x="721.30" y="36.30" width="29.40" height="8.50" fill="#555" opacity="0.55"/>
<rect x="721.30" y="36.30" width="29.40" height="1.7" fill="#000"/>
<rect x="721.30" y="151.60" width="29.40" height="8.50" fill="#555" opacity="0.55"/>
<rect x="721.30" y="158.40" width="29.40" height="1.7" fill="#000"/>
<line x1="730.40" y1="36.30" x2="730.40" y2="160.10" stroke="#111" stroke-width="1.2" />
<line x1="721.30" y1="36.30" x2="721.30" y2="160.10" stroke="#111" stroke-width="1.0" />
<line x1="750.70" y1="36.30" x2="750.70" y2="160.10" stroke="#222" stroke-width="1.0" />
<line x1="793.30" y1="81.20" x2="793.30" y2="115.40" stroke="#8585ea" stroke-width="1.4" />
<line x1="805.80" y1="81.20" x2="805.80" y2="115.40" stroke="#90e090" stroke-width="1.0" />
<line x1="792.20" y1="98.30" x2="794.40" y2="98.30" stroke="#777" stroke-width="0.7" />
<rect x="476.00" y="373.00" width="124.40" height="29.60" rx="0" stroke="none" stroke-width="0" fill="#fff"/>
<line x1="476.07" y1="373.00" x2="476.07" y2="402.60" stroke="#222" stroke-width="0.53" />
<line x1="476.01" y1="373.00" x2="476.01" y2="402.60" stroke="#222" stroke-width="0.51" />
<line x1="476.06" y1="373.00" x2="476.06" y2="402.60" stroke="#9a9a9a" stroke-width="0.6" />
<line x1="476.20" y1="373.00" x2="476.20" y2="402.60" stroke="#222" stroke-width="0.55" />
<line x1="476.36" y1="373.00" x2="476.36" y2="402.60" stroke="#9a9a9a" stroke-width="0.6" />
<line x1="476.66" y1="373.00" x2="476.66" y2="402.60" stroke="#222" stroke-width="0.59" />
<line x1="476.93" y1="373.00" x2="476.93" y2="402.60" stroke="#9a9a9a" stroke-width="0.6" />
<line x1="477.37" y1="373.00" x2="477.37" y2="402.60" stroke="#222" stroke-width="0.64" />
<line x1="477.75" y1="373.00" x2="477.75" y2="402.60" stroke="#9a9a9a" stroke-width="0.6" />
<line x1="478.34" y1="373.00" x2="478.34" y2="402.60" stroke="#222" stroke-width="0.68" />
<line x1="478.82" y1="373.00" x2="478.82" y2="402.60" stroke="#9a9a9a" stroke-width="0.6" />
<line x1="479.56" y1="373.00" x2="479.56" y2="402.60" stroke="#222" stroke-width="0.72" />
<line x1="480.15" y1="373.00" x2="480.15" y2="402.60" stroke="#9a9a9a" stroke-width="0.6" />
<line x1="481.03" y1="373.00" x2="481.03" y2="402.60" stroke="#222" stroke-width="0.76" />
<line x1="481.72" y1="373.00" x2="481.72" y2="402.60" stroke="#9a9a9a" stroke-width="0.6" />
<line x1="482.73" y1="373.00" x2="482.73" y2="402.60" stroke="#222" stroke-width="0.79" />
<line x1="483.52" y1="373.00" x2="483.52" y2="402.60" stroke="#9a9a9a" stroke-width="0.6" />
<line x1="484.67" y1="373.00" x2="484.67" y2="402.60" stroke="#000" stroke-width="0.83" />
<line x1="485.55" y1="373.00" x2="485.55" y2="402.60" stroke="#9a9a9a" stroke-width="0.6" />
<line x1="486.83" y1="373.00" x2="486.83" y2="402.60" stroke="#000" stroke-width="0.87" />
<line x1="487.81" y1="373.00" x2="487.81" y2="402.60" stroke="#9a9a9a" stroke-width="0.6" />
<line x1="489.21" y1="373.00" x2="489.21" y2="402.60" stroke="#000" stroke-width="0.9" />
<line x1="490.27" y1="373.00" x2="490.27" y2="402.60" stroke="#9a9a9a" stroke-width="0.6" />
<line x1="491.80" y1="373.00" x2="491.80" y2="402.60" stroke="#000" stroke-width="0.93" />
<line x1="492.94" y1="373.00" x2="492.94" y2="402.60" stroke="#9a9a9a" stroke-width="0.6" />
<line x1="494.58" y1="373.00" x2="494.58" y2="402.60" stroke="#000" stroke-width="0.96" />
<line x1="495.80" y1="373.00" x2="495.80" y2="402.60" stroke="#9a9a9a" stroke-width="0.6" />
<line x1="497.54" y1="373.00" x2="497.54" y2="402.60" stroke="#000" stroke-width="0.99" />
<line x1="498.83" y1="373.00" x2="498.83" y2="402.60" stroke="#9a9a9a" stroke-width="0.6" />
<line x1="500.67" y1="373.00" x2="500.67" y2="402.60" stroke="#000" stroke-width="1.02" />
<line x1="502.03" y1="373.00" x2="502.03" y2="402.60" stroke="#9a9a9a" stroke-width="0.6" />
<line x1="503.96" y1="373.00" x2="503.96" y2="402.60" stroke="#000" stroke-width="1.04" />
<line x1="505.38" y1="373.00" x2="505.38" y2="402.60" stroke="#9a9a9a" stroke-width="0.6" />
<line x1="507.39" y1="373.00" x2="507.39" y2="402.60" stroke="#000" stroke-width="1.06" />
<line x1="508.87" y1="373.00" x2="508.87" y2="402.60" stroke="#9a9a9a" stroke-width="0.6" />
<line x1="510.95" y1="373.00" x2="510.95" y2="402.60" stroke="#000" stroke-width="1.08" />
<line x1="512.48" y1="373.00" x2="512.48" y2="402.60" stroke="#9a9a9a" stroke-width="0.6" />
<line x1="514.63" y1="373.00" x2="514.63" y2="402.60" stroke="#000" stroke-width="1.1" />
<line x1="516.20" y1="373.00" x2="516.20" y2="402.60" stroke="#9a9a9a" stroke-width="0.6" />
<line x1="518.41" y1="373.00" x2="518.41" y2="402.60" stroke="#000" stroke-width="1.12" />
<line x1="520.02" y1="373.00" x2="520.02" y2="402.60" stroke="#9a9a9a" stroke-width="0.6" />
<line x1="522.26" y1="373.00" x2="522.26" y2="402.60" stroke="#000" stroke-width="1.13" />
<line x1="523.91" y1="373.00" x2="523.91" y2="402.60" stroke="#9a9a9a" stroke-width="0.6" />
<line x1="526.19" y1="373.00" x2="526.19" y2="402.60" stroke="#000" stroke-width="1.14" />
<line x1="527.85" y1="373.00" x2="527.85" y2="402.60" stroke="#9a9a9a" stroke-width="0.6" />
<line x1="530.16" y1="373.00" x2="530.16" y2="402.60" stroke="#000" stroke-width="1.14" />
<line x1="531.85" y1="373.00" x2="531.85" y2="402.60" stroke="#9a9a9a" stroke-width="0.6" />
<line x1="534.17" y1="373.00" x2="534.17" y2="402.60" stroke="#000" stroke-width="1.15" />
<line x1="535.86" y1="373.00" x2="535.86" y2="402.60" stroke="#9a9a9a" stroke-width="0.6" />
<line x1="538.20" y1="373.00" x2="538.20" y2="402.60" stroke="#000" stroke-width="1.15" />
<line x1="539.89" y1="373.00" x2="539.89" y2="402.60" stroke="#9a9a9a" stroke-width="0.6" />
<line x1="542.23" y1="373.00" x2="542.23" y2="402.60" stroke="#000" stroke-width="1.15" />
<line x1="543.91" y1="373.00" x2="543.91" y2="402.60" stroke="#9a9a9a" stroke-width="0.6" />
<line x1="546.24" y1="373.00" x2="546.24" y2="402.60" stroke="#000" stroke-width="1.14" />
<line x1="547.91" y1="373.00" x2="547.91" y2="402.60" stroke="#9a9a9a" stroke-width="0.6" />
<line x1="550.21" y1="373.00" x2="550.21" y2="402.60" stroke="#000" stroke-width="1.14" />
<line x1="551.87" y1="373.00" x2="551.87" y2="402.60" stroke="#9a9a9a" stroke-width="0.6" />
<line x1="554.14" y1="373.00" x2="554.14" y2="402.60" stroke="#000" stroke-width="1.13" />
<line x1="555.77" y1="373.00" x2="555.77" y2="402.60" stroke="#9a9a9a" stroke-width="0.6" />
<line x1="557.99" y1="373.00" x2="557.99" y2="402.60" stroke="#000" stroke-width="1.12" />
<line x1="559.59" y1="373.00" x2="559.59" y2="402.60" stroke="#9a9a9a" stroke-width="0.6" />
<line x1="561.77" y1="373.00" x2="561.77" y2="402.60" stroke="#000" stroke-width="1.1" />
<line x1="563.33" y1="373.00" x2="563.33" y2="402.60" stroke="#9a9a9a" stroke-width="0.6" />
<line x1="565.45" y1="373.00" x2="565.45" y2="402.60" stroke="#000" stroke-width="1.08" />
<line x1="566.96" y1="373.00" x2="566.96" y2="402.60" stroke="#9a9a9a" stroke-width="0.6" />
<line x1="569.01" y1="373.00" x2="569.01" y2="402.60" stroke="#000" stroke-width="1.06" />
<line x1="570.47" y1="373.00" x2="570.47" y2="402.60" stroke="#9a9a9a" stroke-width="0.6" />
<line x1="572.44" y1="373.00" x2="572.44" y2="402.60" stroke="#000" stroke-width="1.04" />
<line x1="573.84" y1="373.00" x2="573.84" y2="402.60" stroke="#9a9a9a" stroke-width="0.6" />
<line x1="575.73" y1="373.00" x2="575.73" y2="402.60" stroke="#000" stroke-width="1.02" />
<line x1="577.07" y1="373.00" x2="577.07" y2="402.60" stroke="#9a9a9a" stroke-width="0.6" />
<line x1="578.86" y1="373.00" x2="578.86" y2="402.60" stroke="#000" stroke-width="0.99" />
<line x1="580.13" y1="373.00" x2="580.13" y2="402.60" stroke="#9a9a9a" stroke-width="0.6" />
<line x1="581.82" y1="373.00" x2="581.82" y2="402.60" stroke="#000" stroke-width="0.96" />
<line x1="583.01" y1="373.00" x2="583.01" y2="402.60" stroke="#9a9a9a" stroke-width="0.6" />
<line x1="584.60" y1="373.00" x2="584.60" y2="402.60" stroke="#000" stroke-width="0.93" />
<line x1="585.71" y1="373.00" x2="585.71" y2="402.60" stroke="#9a9a9a" stroke-width="0.6" />
<line x1="587.19" y1="373.00" x2="587.19" y2="402.60" stroke="#000" stroke-width="0.9" />
<line x1="588.21" y1="373.00" x2="588.21" y2="402.60" stroke="#9a9a9a" stroke-width="0.6" />
<line x1="589.57" y1="373.00" x2="589.57" y2="402.60" stroke="#000" stroke-width="0.87" />
<line x1="590.50" y1="373.00" x2="590.50" y2="402.60" stroke="#9a9a9a" stroke-width="0.6" />
<line x1="591.73" y1="373.00" x2="591.73" y2="402.60" stroke="#000" stroke-width="0.83" />
<line x1="592.57" y1="373.00" x2="592.57" y2="402.60" stroke="#9a9a9a" stroke-width="0.6" />
<line x1="593.67" y1="373.00" x2="593.67" y2="402.60" stroke="#222" stroke-width="0.79" />
<line x1="594.41" y1="373.00" x2="594.41" y2="402.60" stroke="#9a9a9a" stroke-width="0.6" />
<line x1="595.37" y1="373.00" x2="595.37" y2="402.60" stroke="#222" stroke-width="0.76" />
<line x1="596.02" y1="373.00" x2="596.02" y2="402.60" stroke="#9a9a9a" stroke-width="0.6" />
<line x1="596.84" y1="373.00" x2="596.84" y2="402.60" stroke="#222" stroke-width="0.72" />
<line x1="597.38" y1="373.00" x2="597.38" y2="402.60" stroke="#9a9a9a" stroke-width="0.6" />
<line x1="598.06" y1="373.00" x2="598.06" y2="402.60" stroke="#222" stroke-width="0.68" />
<line x1="598.50" y1="373.00" x2="598.50" y2="402.60" stroke="#9a9a9a" stroke-width="0.6" />
<line x1="599.03" y1="373.00" x2="599.03" y2="402.60" stroke="#222" stroke-width="0.64" />
<line x1="599.36" y1="373.00" x2="599.36" y2="402.60" stroke="#9a9a9a" stroke-width="0.6" />
<line x1="599.74" y1="373.00" x2="599.74" y2="402.60" stroke="#222" stroke-width="0.59" />
<line x1="599.96" y1="373.00" x2="599.96" y2="402.60" stroke="#9a9a9a" stroke-width="0.6" />
<line x1="600.20" y1="373.00" x2="600.20" y2="402.60" stroke="#222" stroke-width="0.55" />
<line x1="600.31" y1="373.00" x2="600.31" y2="402.60" stroke="#9a9a9a" stroke-width="0.6" />
<line x1="600.39" y1="373.00" x2="600.39" y2="402.60" stroke="#222" stroke-width="0.51" />
<rect x="476.00" y="373.00" width="8.50" height="29.60" fill="#555" opacity="0.55"/>
<rect x="476.00" y="373.00" width="1.7" height="29.60" fill="#000"/>
<rect x="591.90" y="373.00" width="8.50" height="29.60" fill="#555" opacity="0.55"/>
<rect x="598.70" y="373.00" width="1.7" height="29.60" fill="#000"/>
<line x1="476.00" y1="373.00" x2="600.40" y2="373.00" stroke="#111" stroke-width="1.0" />
<line x1="476.00" y1="382.00" x2="600.40" y2="382.00" stroke="#222" stroke-width="1.1" />
<path d="M374.80,402.60 L620.50,402.60 A6.8,6.8 0 0 1 627.30,409.40 L627.30,579.70 A6.8,6.8 0 0 1 620.50,586.50 L374.80,586.50 A6.8,6.8 0 0 1 368.00,579.70 L368.00,409.40 A6.8,6.8 0 0 1 374.80,402.60 Z" stroke="#464646" stroke-width="1.1" fill="none" />
<line x1="375.20" y1="402.60" x2="375.20" y2="586.50" stroke="#464646" stroke-width="0.9" />
<line x1="620.50" y1="402.60" x2="620.50" y2="586.50" stroke="#464646" stroke-width="0.9" />
<line x1="368.00" y1="409.20" x2="627.30" y2="409.20" stroke="#464646" stroke-width="0.9" />
<line x1="368.00" y1="579.40" x2="627.30" y2="579.40" stroke="#464646" stroke-width="0.9" />
<rect x="369.00" y="435.30" width="257.30" height="4.70" rx="0" stroke="none" stroke-width="0" fill="#b4b4b4"/>
<line x1="369.00" y1="435.30" x2="626.30" y2="435.30" stroke="#888" stroke-width="0.9" />
<line x1="369.00" y1="440.00" x2="626.30" y2="440.00" stroke="#888" stroke-width="0.9" />
<path d="M368.00,434.50 L370.00,437.65 L368.00,440.80" stroke="#464646" stroke-width="1.1" fill="#fff" />
<path d="M627.30,434.50 L625.30,437.65 L627.30,440.80" stroke="#464646" stroke-width="1.1" fill="#fff" />
<rect x="369.00" y="554.40" width="257.30" height="4.40" rx="0" stroke="none" stroke-width="0" fill="#d2d2d2"/>
<line x1="369.00" y1="554.60" x2="626.30" y2="554.60" stroke="#7c7c7c" stroke-width="1.0" />
<line x1="369.00" y1="556.60" x2="626.30" y2="556.60" stroke="#7c7c7c" stroke-width="1.0" />
<line x1="369.00" y1="558.60" x2="626.30" y2="558.60" stroke="#7c7c7c" stroke-width="1.0" />
<path d="M368.00,553.60 L370.00,556.60 L368.00,559.60" stroke="#464646" stroke-width="1.1" fill="#fff" />
<path d="M627.30,553.60 L625.30,556.60 L627.30,559.60" stroke="#464646" stroke-width="1.1" fill="#fff" />
<line x1="518.10" y1="445.10" x2="557.90" y2="445.10" stroke="#8585ea" stroke-width="1.5" />
<line x1="518.10" y1="457.30" x2="557.90" y2="457.30" stroke="#90e090" stroke-width="1.0" />
<line x1="538.00" y1="444.00" x2="538.00" y2="446.20" stroke="#777" stroke-width="0.7" />
<circle cx="537.90" cy="468.90" r="9.10" stroke="#111" stroke-width="1.0" fill="none"/>
<line x1="331.60" y1="402.60" x2="374.00" y2="402.60" stroke="#555" stroke-width="0.9" />
<line x1="329.80" y1="445.10" x2="516.60" y2="445.10" stroke="#555" stroke-width="0.9" />
<line x1="329.80" y1="457.20" x2="516.60" y2="457.20" stroke="#555" stroke-width="0.9" />
<line x1="329.80" y1="468.80" x2="536.20" y2="468.80" stroke="#555" stroke-width="0.9" />
<line x1="329.80" y1="586.50" x2="374.00" y2="586.50" stroke="#555" stroke-width="0.9" />
<line x1="331.60" y1="402.60" x2="331.60" y2="586.50" stroke="#555" stroke-width="0.9" />
<polygon points="331.60,445.10 330.40,439.10 332.80,439.10" fill="#000"/>
<polygon points="331.60,457.20 330.40,451.20 332.80,451.20" fill="#000"/>
<polygon points="331.60,468.80 330.40,462.80 332.80,462.80" fill="#000"/>
<polygon points="331.60,586.50 330.40,580.50 332.80,580.50" fill="#000"/>
<circle cx="331.60" cy="402.60" r="1.20" stroke="#444" stroke-width="0.8" fill="#ccc"/>
<text x="324.90" y="405.90" font-size="9.0" font-family="Liberation Sans, sans-serif" text-anchor="middle" fill="#1a1a1a" stroke="#1a1a1a" stroke-width="0.2" font-weight="normal">0</text>
<text x="327.40" y="448.10" font-size="9.0" font-family="Liberation Sans, sans-serif" text-anchor="end" fill="#1a1a1a" stroke="#1a1a1a" stroke-width="0.2" font-weight="normal" textLength="15.1" lengthAdjust="spacingAndGlyphs">12.0</text>
<text x="327.40" y="460.20" font-size="9.0" font-family="Liberation Sans, sans-serif" text-anchor="end" fill="#1a1a1a" stroke="#1a1a1a" stroke-width="0.2" font-weight="normal" textLength="15.1" lengthAdjust="spacingAndGlyphs">15.5</text>
<text x="327.40" y="471.80" font-size="9.0" font-family="Liberation Sans, sans-serif" text-anchor="end" fill="#1a1a1a" stroke="#1a1a1a" stroke-width="0.2" font-weight="normal" textLength="15.1" lengthAdjust="spacingAndGlyphs">18.7</text>
<text x="327.20" y="589.80" font-size="9.0" font-family="Liberation Sans, sans-serif" text-anchor="end" fill="#1a1a1a" stroke="#1a1a1a" stroke-width="0.2" font-weight="normal" textLength="15.5" lengthAdjust="spacingAndGlyphs">51.9</text>
<rect x="295.20" y="438.60" width="13.10" height="12.60" rx="0" stroke="#8a8a8a" stroke-width="1.0" fill="#fff"/>
<text x="301.75" y="448.14" font-size="9" font-family="Liberation Sans, sans-serif" text-anchor="middle" fill="#1a1a1a" stroke="#1a1a1a" stroke-width="0.2" font-weight="normal">D</text>
<rect x="295.20" y="451.20" width="13.10" height="12.50" rx="0" stroke="#8a8a8a" stroke-width="1.0" fill="#fff"/>
<text x="301.75" y="460.69" font-size="9" font-family="Liberation Sans, sans-serif" text-anchor="middle" fill="#1a1a1a" stroke="#1a1a1a" stroke-width="0.2" font-weight="normal">E</text>
<line x1="368.20" y1="580.50" x2="368.20" y2="627.10" stroke="#555" stroke-width="0.9" />
<line x1="538.00" y1="470.70" x2="538.00" y2="628.60" stroke="#555" stroke-width="0.9" />
<line x1="627.50" y1="580.50" x2="627.50" y2="628.60" stroke="#555" stroke-width="0.9" />
<line x1="368.00" y1="627.10" x2="627.50" y2="627.10" stroke="#555" stroke-width="0.9" />
<polygon points="538.00,627.10 532.00,628.30 532.00,625.90" fill="#000"/>
<polygon points="627.50,627.10 621.50,628.30 621.50,625.90" fill="#000"/>
<circle cx="368.20" cy="627.10" r="1.20" stroke="#444" stroke-width="0.8" fill="#ccc"/>
<text x="371.10" y="635.80" font-size="9.0" font-family="Liberation Sans, sans-serif" text-anchor="start" fill="#1a1a1a" stroke="#1a1a1a" stroke-width="0.2" font-weight="normal" transform="rotate(-90 371.10 635.80)">0</text>
<text x="542.10" y="647.10" font-size="9.0" font-family="Liberation Sans, sans-serif" text-anchor="start" fill="#1a1a1a" stroke="#1a1a1a" stroke-width="0.2" font-weight="normal" textLength="15.2" lengthAdjust="spacingAndGlyphs" transform="rotate(-90 542.10 647.10)">47.9</text>
<text x="632.20" y="647.10" font-size="9.0" font-family="Liberation Sans, sans-serif" text-anchor="start" fill="#1a1a1a" stroke="#1a1a1a" stroke-width="0.2" font-weight="normal" textLength="15.2" lengthAdjust="spacingAndGlyphs" transform="rotate(-90 632.20 647.10)">73.0</text>
<path d="M643.8,531.4 L633.0,531.4 L548.8,475.5" stroke="#333" stroke-width="0.9" fill="none" />
<polygon points="546.6,471.2 543.6,475.4 549.3,475.9" fill="#000"/>
<rect x="643.80" y="525.30" width="12.70" height="12.70" rx="0" stroke="#8a8a8a" stroke-width="1.0" fill="#fff"/>
<text x="650.15" y="534.89" font-size="9" font-family="Liberation Sans, sans-serif" text-anchor="middle" fill="#1a1a1a" stroke="#1a1a1a" stroke-width="0.2" font-weight="normal">A</text>
<line x1="605.50" y1="351.60" x2="605.50" y2="387.00" stroke="#858585" stroke-width="0.9" />
<polygon points="605.5,386.0 608.2,390.5 602.8,390.5" fill="#000"/>
<rect x="599.40" y="339.00" width="12.60" height="12.60" rx="0" stroke="#8a8a8a" stroke-width="1.0" fill="#fff"/>
<text x="605.70" y="348.54" font-size="9" font-family="Liberation Sans, sans-serif" text-anchor="middle" fill="#1a1a1a" stroke="#1a1a1a" stroke-width="0.2" font-weight="normal">C</text>
<line x1="684.60" y1="353.50" x2="983.20" y2="353.50" stroke="#7d7d7d" stroke-width="1.0" />
<line x1="684.60" y1="371.20" x2="983.20" y2="371.20" stroke="#7d7d7d" stroke-width="1.0" />
<line x1="684.60" y1="406.70" x2="983.20" y2="406.70" stroke="#7d7d7d" stroke-width="1.0" />
<line x1="684.60" y1="442.20" x2="983.20" y2="442.20" stroke="#7d7d7d" stroke-width="1.0" />
<line x1="684.60" y1="477.80" x2="983.20" y2="477.80" stroke="#7d7d7d" stroke-width="1.0" />
<line x1="684.60" y1="513.40" x2="983.20" y2="513.40" stroke="#7d7d7d" stroke-width="1.0" />
<line x1="684.60" y1="548.30" x2="983.20" y2="548.30" stroke="#7d7d7d" stroke-width="1.0" />
<line x1="684.60" y1="353.50" x2="684.60" y2="548.30" stroke="#7d7d7d" stroke-width="1.0" />
<line x1="983.20" y1="353.50" x2="983.20" y2="548.30" stroke="#7d7d7d" stroke-width="1.0" />
<line x1="740.40" y1="371.20" x2="740.40" y2="548.30" stroke="#7d7d7d" stroke-width="1.0" />
<line x1="999.50" y1="353.50" x2="999.50" y2="548.30" stroke="#e6e6e6" stroke-width="1.0" />
<text x="833.80" y="367.20" font-size="15.2" font-family="Liberation Sans, sans-serif" text-anchor="middle" fill="#1a1a1a" stroke="#1a1a1a" stroke-width="0.15" font-weight="normal" textLength="72.4" lengthAdjust="spacingAndGlyphs">FEATURES</text>
<text x="861.80" y="385.90" font-size="15.8" font-family="Liberation Sans, sans-serif" text-anchor="middle" fill="#1a1a1a" stroke="#1a1a1a" stroke-width="0.15" font-weight="normal" textLength="156.5" lengthAdjust="spacingAndGlyphs">Mounting points use</text>
<text x="791.8" y="402.3" font-size="15.8" font-family="Liberation Sans, sans-serif" fill="#1a1a1a" stroke="#1a1a1a" stroke-width="0.15" textLength="81.8" lengthAdjust="spacingAndGlyphs">1/4-20UNC</text>
<text x="902.2" y="402.3" font-size="15.8" font-family="Liberation Sans, sans-serif" fill="#1a1a1a" stroke="#1a1a1a" stroke-width="0.15" textLength="27.6" lengthAdjust="spacingAndGlyphs">5.51</text>
<path d="M881,389.9 L893.3,389.9 M887.2,389.9 L887.2,401.2 M882.8,395.2 L887.2,401.6 L891.8,395.2" stroke="#8e8e8e" stroke-width="1.0" fill="none" />
<text x="861.80" y="430.20" font-size="15.8" font-family="Liberation Sans, sans-serif" text-anchor="middle" fill="#1a1a1a" stroke="#1a1a1a" stroke-width="0.15" font-weight="normal" textLength="26.6" lengthAdjust="spacingAndGlyphs">LED</text>
<text x="861.80" y="465.20" font-size="15.8" font-family="Liberation Sans, sans-serif" text-anchor="middle" fill="#1a1a1a" stroke="#1a1a1a" stroke-width="0.15" font-weight="normal" textLength="205.8" lengthAdjust="spacingAndGlyphs">DataRay NDL Filter (Large)</text>
<text x="861.80" y="500.60" font-size="15.8" font-family="Liberation Sans, sans-serif" text-anchor="middle" fill="#1a1a1a" stroke="#1a1a1a" stroke-width="0.15" font-weight="normal" textLength="119" lengthAdjust="spacingAndGlyphs">Sensor Window</text>
<text x="861.80" y="536.30" font-size="15.8" font-family="Liberation Sans, sans-serif" text-anchor="middle" fill="#1a1a1a" stroke="#1a1a1a" stroke-width="0.15" font-weight="normal" textLength="99" lengthAdjust="spacingAndGlyphs">Sensor Plane</text>
<rect x="697.50" y="375.75" width="25.00" height="25.00" rx="0" stroke="#909090" stroke-width="1.0" fill="#fff"/>
<text x="710.00" y="393.95" font-size="16" font-family="Liberation Sans, sans-serif" text-anchor="middle" fill="#1a1a1a" stroke="#1a1a1a" stroke-width="0.1" font-weight="normal">A</text>
<rect x="697.50" y="411.25" width="25.00" height="25.00" rx="0" stroke="#909090" stroke-width="1.0" fill="#fff"/>
<text x="710.00" y="429.45" font-size="16" font-family="Liberation Sans, sans-serif" text-anchor="middle" fill="#1a1a1a" stroke="#1a1a1a" stroke-width="0.1" font-weight="normal">B</text>
<rect x="697.50" y="446.80" width="25.00" height="25.00" rx="0" stroke="#909090" stroke-width="1.0" fill="#fff"/>
<text x="710.00" y="465.00" font-size="16" font-family="Liberation Sans, sans-serif" text-anchor="middle" fill="#1a1a1a" stroke="#1a1a1a" stroke-width="0.1" font-weight="normal">C</text>
<rect x="697.50" y="482.40" width="25.00" height="25.00" rx="0" stroke="#909090" stroke-width="1.0" fill="#fff"/>
<text x="710.00" y="500.60" font-size="16" font-family="Liberation Sans, sans-serif" text-anchor="middle" fill="#1a1a1a" stroke="#1a1a1a" stroke-width="0.1" font-weight="normal">D</text>
<rect x="697.50" y="517.65" width="25.00" height="25.00" rx="0" stroke="#909090" stroke-width="1.0" fill="#fff"/>
<text x="710.00" y="535.85" font-size="16" font-family="Liberation Sans, sans-serif" text-anchor="middle" fill="#1a1a1a" stroke="#1a1a1a" stroke-width="0.1" font-weight="normal">E</text>
</svg>
</body></html>
